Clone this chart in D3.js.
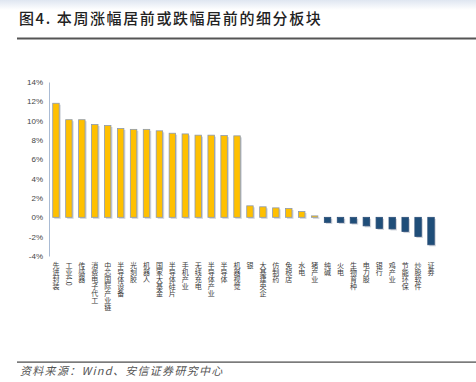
<!DOCTYPE html>
<html><head><meta charset="utf-8">
<script src="https://cdn.jsdelivr.net/npm/d3@7"></script>
<style>body{margin:0;background:#fff}svg{display:block}</style>
</head><body>
<svg id="c" width="476" height="382"></svg>
<script>
const categories = ["先进封装","工业4.0","传感器","消费电子代工","中芯国际产业链","半导体设备","光刻胶","机器人","国家大基金","半导体硅片","手机产业","无线充电","半导体产业","半导体","机器视觉","银","大基建央企","仿制药","免税店","水电","猪产业","纯碱","火电","生物育种","电力股","银行","鸡产业","节能环保","炒股软件","证券"];
const values = [11.8,10.1,10.1,9.6,9.5,9.2,9.1,9.1,8.95,8.7,8.63,8.5,8.5,8.46,8.43,1.19,1.09,0.98,0.92,0.6,0.15,-0.53,-0.53,-0.6,-0.88,-1.15,-1.2,-1.47,-1.98,-2.84];
const yTicks = [-4,-2,0,2,4,6,8,10,12,14];
const title = "图4. 本周涨幅居前或跌幅居前的细分板块";
const source = "资料来源：Wind、安信证券研究中心";

const svg = d3.select("#c");
const defs = svg.append("defs");
const g1 = defs.append("linearGradient").attr("id","topg").attr("x1",0).attr("y1",0).attr("x2",0).attr("y2",1);
g1.append("stop").attr("offset","0%").attr("stop-color","#dfe6f1");
g1.append("stop").attr("offset","100%").attr("stop-color","#ffffff");
svg.append("rect").attr("x",0).attr("y",0).attr("width",476).attr("height",10).attr("fill","url(#topg)");

svg.append("text").attr("x",19).attr("y",24).attr("font-family","'Noto Sans CJK SC', sans-serif")
  .attr("font-size",15).attr("font-weight",500).attr("letter-spacing",1.6).attr("fill","#222").text(title);
svg.append("rect").attr("x",17).attr("y",37.5).attr("width",459).attr("height",2).attr("fill","#555");

const x = d3.scaleBand().domain(categories).range([49.5,437.5]).paddingInner(0.5).paddingOuter(0.25);
const y = d3.scaleLinear().domain([-4,14]).range([256,82]);

// y axis
const yAxis = d3.axisLeft(y).tickValues(yTicks).tickFormat(d=>d+"%").tickSize(0).tickPadding(6);
const ga = svg.append("g").attr("transform","translate(49,0)").call(yAxis);
ga.select(".domain").attr("stroke","#a9bbd4").attr("stroke-width",1);
ga.selectAll("text").attr("font-family","Arial, 'Liberation Sans', sans-serif").attr("font-size",8).attr("fill","#444");

// shadows
svg.append("g").selectAll("rect").data(values).join("rect")
  .attr("x",(d,i)=>x(categories[i])+1.5)
  .attr("y",d=>Math.min(y(d),y(0))+1.5)
  .attr("width",x.bandwidth())
  .attr("height",d=>Math.abs(y(d)-y(0)))
  .attr("fill","#c4c9d2").attr("opacity",0.8);

svg.append("g").selectAll("rect").data(values).join("rect")
  .attr("x",(d,i)=>x(categories[i]))
  .attr("y",d=>Math.min(y(d),y(0)))
  .attr("width",x.bandwidth())
  .attr("height",d=>Math.abs(y(d)-y(0)))
  .attr("fill",d=>d>=0?"#ffc000":"#1f4e79")
  .attr("stroke",d=>d>=0?"#8d9ab0":"#2c4f78").attr("stroke-width",0.8);

// x labels vertical
svg.append("g").selectAll("text").data(categories).join("text")
  .attr("x",d=>x(d)+x.bandwidth()/2)
  .attr("y",262)
  .attr("font-family","'Noto Sans CJK SC', sans-serif").attr("font-size",7)
  .attr("fill","#3a3a3a")
  .style("writing-mode","vertical-rl").style("text-orientation","mixed")
  .attr("text-anchor","start")
  .text(d=>d);

svg.append("rect").attr("x",17).attr("y",361.5).attr("width",459).attr("height",1.2).attr("fill","#444");
svg.append("text").attr("x",20).attr("y",375).attr("font-family","'Noto Sans CJK SC', sans-serif")
  .attr("font-size",11).attr("font-style","italic").attr("letter-spacing",1.3).attr("fill","#555").text(source);
</script>
</body></html>
